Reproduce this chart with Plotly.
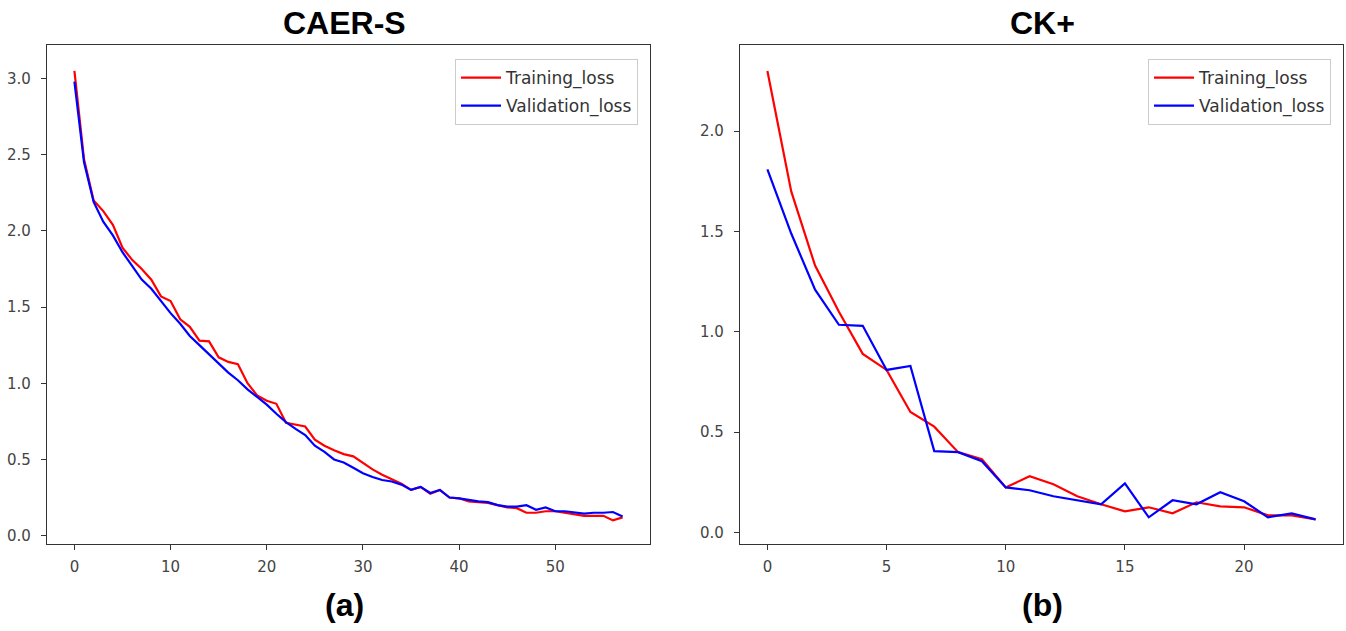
import plotly.graph_objects as go

# ---- data ----
caer_epochs = list(range(58))
caer_train = [3.05, 2.47, 2.20, 2.13, 2.04, 1.89, 1.81, 1.75, 1.68, 1.57,
              1.54, 1.42, 1.37, 1.28, 1.275, 1.17, 1.14, 1.125, 1.00, 0.92,
              0.885, 0.865, 0.74, 0.727, 0.716, 0.63, 0.59, 0.56, 0.535, 0.52,
              0.475, 0.435, 0.40, 0.37, 0.34, 0.30, 0.32, 0.275, 0.30, 0.25,
              0.245, 0.225, 0.22, 0.215, 0.20, 0.185, 0.18, 0.15, 0.15, 0.16,
              0.16, 0.15, 0.14, 0.13, 0.13, 0.13, 0.10, 0.12]
caer_val = [2.98, 2.45, 2.19, 2.06, 1.97, 1.86, 1.77, 1.68, 1.62, 1.54,
            1.46, 1.39, 1.31, 1.25, 1.19, 1.13, 1.07, 1.02, 0.96, 0.91,
            0.86, 0.80, 0.745, 0.70, 0.66, 0.59, 0.55, 0.50, 0.48, 0.445,
            0.41, 0.385, 0.365, 0.355, 0.335, 0.30, 0.32, 0.28, 0.30, 0.25,
            0.245, 0.235, 0.225, 0.22, 0.20, 0.19, 0.19, 0.20, 0.17, 0.185,
            0.16, 0.16, 0.15, 0.145, 0.15, 0.15, 0.155, 0.125]

ck_epochs = list(range(24))
ck_train = [2.30, 1.70, 1.33, 1.10, 0.89, 0.81, 0.60, 0.527, 0.40, 0.365,
            0.224, 0.28, 0.24, 0.18, 0.14, 0.105, 0.125, 0.095, 0.15, 0.13,
            0.125, 0.085, 0.085, 0.065]
ck_val = [1.81, 1.49, 1.21, 1.035, 1.03, 0.81, 0.83, 0.405, 0.40, 0.355,
          0.224, 0.21, 0.18, 0.16, 0.14, 0.244, 0.075, 0.16, 0.14, 0.20,
          0.155, 0.075, 0.095, 0.065]

titles = ["CAER-S", "CK+"]
captions = ["(a)", "(b)"]
series_names = ["Training_loss", "Validation_loss"]

RED = "#ff0000"
BLUE = "#0000ff"
W, H = 1346, 631

fig = go.Figure()
fig.add_trace(go.Scatter(x=caer_epochs, y=caer_train, mode="lines", name=series_names[0],
                         line=dict(color=RED, width=2.2), xaxis="x", yaxis="y",
                         legend="legend", legendgroup="a1"))
fig.add_trace(go.Scatter(x=caer_epochs, y=caer_val, mode="lines", name=series_names[1],
                         line=dict(color=BLUE, width=2.2), xaxis="x", yaxis="y",
                         legend="legend", legendgroup="a2"))
fig.add_trace(go.Scatter(x=ck_epochs, y=ck_train, mode="lines", name=series_names[0],
                         line=dict(color=RED, width=2.2), xaxis="x2", yaxis="y2",
                         legend="legend2", legendgroup="b1"))
fig.add_trace(go.Scatter(x=ck_epochs, y=ck_val, mode="lines", name=series_names[1],
                         line=dict(color=BLUE, width=2.2), xaxis="x2", yaxis="y2",
                         legend="legend2", legendgroup="b2"))

ydom = [(H - 544) / H, (H - 45) / H]
axis_common = dict(showline=True, mirror=True, linecolor="#333333", linewidth=1.3,
                   ticks="outside", ticklen=5, tickcolor="#333333", showgrid=False,
                   zeroline=False, tickfont=dict(family="DejaVu Sans", size=15, color="#444444"))

legend_common = dict(bgcolor="rgba(255,255,255,0.9)", bordercolor="#cccccc", borderwidth=1,
                     font=dict(family="DejaVu Sans", size=17, color="#333333"),
                     xanchor="left", yanchor="top", itemwidth=40, tracegroupgap=3)

fig.update_layout(
    width=W, height=H, margin=dict(l=0, r=0, t=0, b=0),
    paper_bgcolor="white", plot_bgcolor="white",
    xaxis=dict(domain=[47 / W, 650 / W], range=[-2.85, 59.85], tickvals=[0, 10, 20, 30, 40, 50],
               anchor="y", ticklabelstandoff=4, **axis_common),
    yaxis=dict(domain=ydom, range=[-0.055, 3.22], tickvals=[0, 0.5, 1.0, 1.5, 2.0, 2.5, 3.0],
               tickformat=".1f", anchor="x", ticklabelstandoff=7, **axis_common),
    xaxis2=dict(domain=[740 / W, 1343 / W], range=[-1.15, 24.15], tickvals=[0, 5, 10, 15, 20],
                anchor="y2", ticklabelstandoff=4, **axis_common),
    yaxis2=dict(domain=ydom, range=[-0.058, 2.43], tickvals=[0, 0.5, 1.0, 1.5, 2.0],
                tickformat=".1f", anchor="x2", ticklabelstandoff=7, **axis_common),
    legend=dict(x=455 / W, y=1 - 59 / H, **legend_common),
    legend2=dict(x=1148 / W, y=1 - 59 / H, **legend_common),
    showlegend=True,
)

title_font = dict(family="Liberation Sans Narrow, Arial Narrow, Liberation Sans, Arial", size=32, color="black")
for cx, t, c in [(344, titles[0], captions[0]), (1042, titles[1], captions[1])]:
    fig.add_annotation(x=cx / W, y=1 - 23 / H, xref="paper", yref="paper", text=f"<b>{t}</b>",
                       showarrow=False, font=title_font, xanchor="center", yanchor="middle")
    fig.add_annotation(x=cx / W, y=1 - 605 / H, xref="paper", yref="paper", text=f"<b>{c}</b>",
                       showarrow=False, font=title_font, xanchor="center", yanchor="middle")

fig.write_html("out.html", config={"displayModeBar": False},
               post_script="document.body.style.margin='0px';document.body.style.padding='0px';")
